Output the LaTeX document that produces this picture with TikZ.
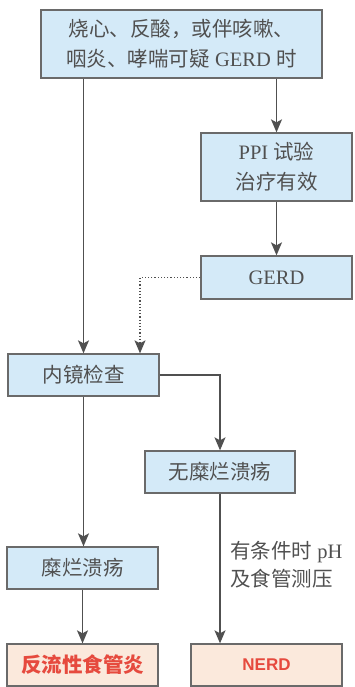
\documentclass[tikz,border=0pt]{standalone}
\usepackage{fontspec}
\setmainfont{Liberation Serif}
\newfontfamily\cjk{Noto Sans CJK SC}
\usetikzlibrary{arrows.meta}
\definecolor{boxblue}{HTML}{D4EAF8}
\definecolor{boxpink}{HTML}{FBE9DC}
\definecolor{edge}{HTML}{6A6A6A}
\definecolor{txt}{HTML}{505050}
\definecolor{redtxt}{HTML}{E64A3E}
\begin{document}
\begin{tikzpicture}[x=1pt,y=-1pt,
  bluebox/.style={draw=edge,line width=1.3pt,fill=boxblue,text=txt,minimum width=151pt,minimum height=42pt,inner sep=0pt,align=center,font=\fontsize{20.5}{30}\selectfont},
  pinkbox/.style={draw=edge,line width=1.3pt,fill=boxpink,minimum width=151pt,minimum height=42pt,inner sep=0pt,align=center,font=\fontsize{20.5}{30}\selectfont},
  conn/.style={draw=txt,line width=1.5pt,-{Stealth[width=11pt,length=13pt,inset=3pt]}},
  dotconn/.style={draw=txt,line width=1.2pt,dotted,-{Stealth[width=11pt,length=13pt,inset=3pt]}}]
\useasboundingbox (0,0) rectangle (354,687);
\node[bluebox,minimum width=281pt,minimum height=68pt] (top) at (181.5,44) {{\cjk 烧心、反酸，或伴咳嗽、}\\{\cjk 咽炎、哮喘可疑} GERD {\cjk 时}};
\node[bluebox,minimum height=68pt] (ppi) at (276.5,167) {PPI {\cjk 试验}\\{\cjk 治疗有效}};
\node[bluebox,minimum height=43pt] (gerd) at (276.5,277.5) {GERD};
\node[bluebox] (endo) at (83.5,375) {\cjk 内镜检查};
\node[bluebox,minimum width=150pt] (none) at (220,472) {\cjk 无糜烂溃疡};
\node[bluebox] (ero) at (82.5,568) {\cjk 糜烂溃疡};
\node[pinkbox] (rfx) at (82.5,665) {\cjk\bfseries\color{redtxt}反流性食管炎};
\node[pinkbox] (nerd) at (266.5,665) {\fontspec{Liberation Sans}\bfseries\fontsize{17}{20}\selectfont\color{redtxt}NERD};
\node[anchor=north west,align=left,inner sep=0pt,text=txt,font=\fontsize{20.5}{28}\selectfont] (lab) at (230,541) {{\cjk 有条件时} pH\\{\cjk 及食管测压}};
\draw[conn] (endo.north |- top.south) -- (endo.north);
\draw[conn] (ppi.north |- top.south) -- (ppi.north);
\draw[conn] (ppi.south) -- (gerd.north);
\draw[dotconn] (gerd.west) -| ([xshift=56.5pt]endo.north);
\draw[conn] (endo.east) -| (none.north);
\draw[conn] (endo.south) -- (endo.south |- ero.north);
\draw[conn] (ero.south) -- (rfx.north);
\draw[conn] (none.south) -- (none.south |- nerd.north);
\end{tikzpicture}
\end{document}
